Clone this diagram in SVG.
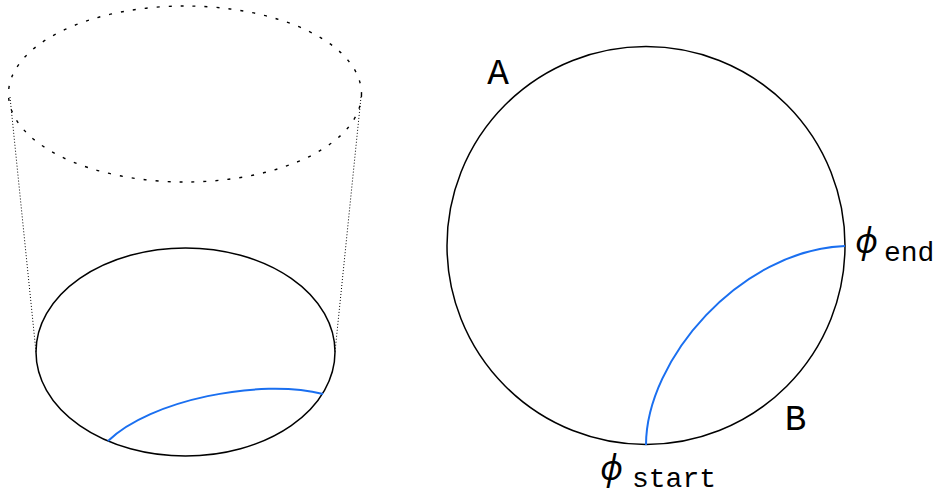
<svg xmlns="http://www.w3.org/2000/svg" width="939" height="496" viewBox="0 0 939 496">
<style>
.solid{fill:none;stroke:#000;stroke-width:1.5}
.dash{fill:none;stroke:#000;stroke-width:1.4;stroke-dasharray:3 9}
.dot{fill:none;stroke:#000;stroke-width:1;stroke-dasharray:1 2}
.blue{fill:none;stroke:#1a6ff0;stroke-width:2}
.tt{font-family:"Liberation Mono","DejaVu Sans Mono",monospace;fill:#000}
.phi{font-family:"Noto Sans",sans-serif;font-style:italic;font-size:34px;fill:#000}
</style>
<rect width="939" height="496" fill="#fff"/>
<g id="cylinder">
<ellipse id="top-ellipse" class="dash" cx="185" cy="94" rx="176.5" ry="88"/>
<line class="dot" x1="10" y1="97" x2="36" y2="352"/>
<line class="dot" x1="361" y1="97" x2="335" y2="352"/>
<ellipse id="bottom-ellipse" class="solid" cx="185.5" cy="352" rx="149.5" ry="104"/>
<path class="blue" d="M108,441 C150,400 260,378 323,394"/>
</g>
<g id="disc">
<circle class="solid" cx="646" cy="245.5" r="199"/>
<path class="blue" d="M646,445 C646,360 740,250 845,246"/>
</g>
<g id="labels">
<text class="tt" x="498" y="84" font-size="36" text-anchor="middle">A</text>
<text class="tt" x="795.5" y="430" font-size="36" text-anchor="middle">B</text>
<text class="phi" x="600" y="480">ϕ</text>
<text class="tt" x="632" y="487" font-size="28">start</text>
<text class="phi" x="855" y="253">ϕ</text>
<text class="tt" x="884" y="261" font-size="28">end</text>
</g>
</svg>
